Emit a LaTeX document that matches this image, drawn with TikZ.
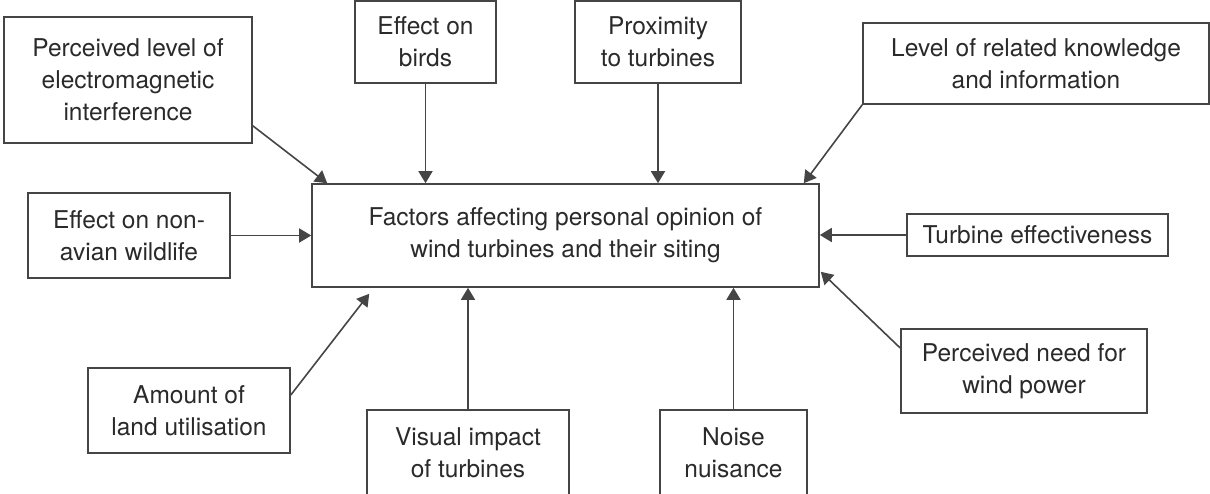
\documentclass[tikz,border=0pt]{standalone}
\usepackage{fontspec}
\setmainfont{TeX Gyre Heros}
\usetikzlibrary{positioning,calc,arrows.meta}
\definecolor{linegray}{HTML}{454545}
\definecolor{textgray}{HTML}{2A2A2A}
\tikzset{
  factor/.style = {rectangle,draw=linegray,line width=1.6pt,align=center,
                   text=textgray,inner sep=0pt,
                   font=\fontsize{24.5}{32}\selectfont},
  link/.style   = {->,draw=linegray,line width=1.6pt},
  >={Triangle[length=12pt,width=14pt]}
}

\begin{document}
\begin{tikzpicture}[x=1pt,y=1pt]
    \useasboundingbox (0,0) rectangle (1210,-494);

    % central box
    \node[factor,minimum width=507pt,minimum height=103pt] (opinion)
      at (565.5,-235.5)
      {Factors affecting personal opinion of\\wind turbines and their siting};

    % factors above
    \node[factor,minimum width=248pt,minimum height=126pt] (emi)
      at (128,-80) {Perceived level of\\electromagnetic\\interference};
    \node[factor,minimum width=141pt,minimum height=82pt] (birds)
      at (425.5,-42) {Effect on\\birds};
    \node[factor,minimum width=166pt,minimum height=82pt] (prox)
      at (658,-42) {Proximity\\to turbines};
    \node[factor,minimum width=346pt,minimum height=81pt] (know)
      at (1036,-63.5) {Level of related knowledge\\and information};

    % factors beside
    \node[factor,minimum width=202pt,minimum height=85pt] (wildlife)
      at (129,-235.5) {Effect on non-\\avian wildlife};
    \node[factor,minimum width=261pt,minimum height=42pt] (effect)
      at (1037.5,-235) {Turbine effectiveness};

    % factors below
    \node[factor,minimum width=202pt,minimum height=85pt] (land)
      at (189,-410.5) {Amount of\\land utilisation};
    \node[factor,minimum width=202pt,minimum height=85pt] (visual)
      at (468,-452.5) {Visual impact\\of turbines};
    \node[factor,minimum width=147pt,minimum height=85pt] (noise)
      at (733.5,-452.5) {Noise\\nuisance};
    \node[factor,minimum width=246pt,minimum height=84pt] (need)
      at (1024,-371) {Perceived need for\\wind power};

    % arrows into the central box
    \draw[link] ($(emi.south east)+(0,18)$) -- ($(opinion.north west)+(16,0)$);
    \draw[link] (birds.south) -- (birds.south |- opinion.north);
    \draw[link] (prox.south) -- (prox.south |- opinion.north);
    \draw[link] (know.south west) -- ($(opinion.north east)+(-16,0)$);
    \draw[link] (wildlife.east) -- (wildlife.east -| opinion.west);
    \draw[link] (effect.west) -- (effect.west -| opinion.east);
    \draw[link] ($(land.east)+(0,15.5)$) -- ($(opinion.south west)+(58,-6)$);
    \draw[link] (visual.north) -- (visual.north |- opinion.south);
    \draw[link] (noise.north) -- (noise.north |- opinion.south);
    \draw[link] ($(need.west)+(0,23)$) -- ($(opinion.south east)+(1,16)$);
\end{tikzpicture}
\end{document}
